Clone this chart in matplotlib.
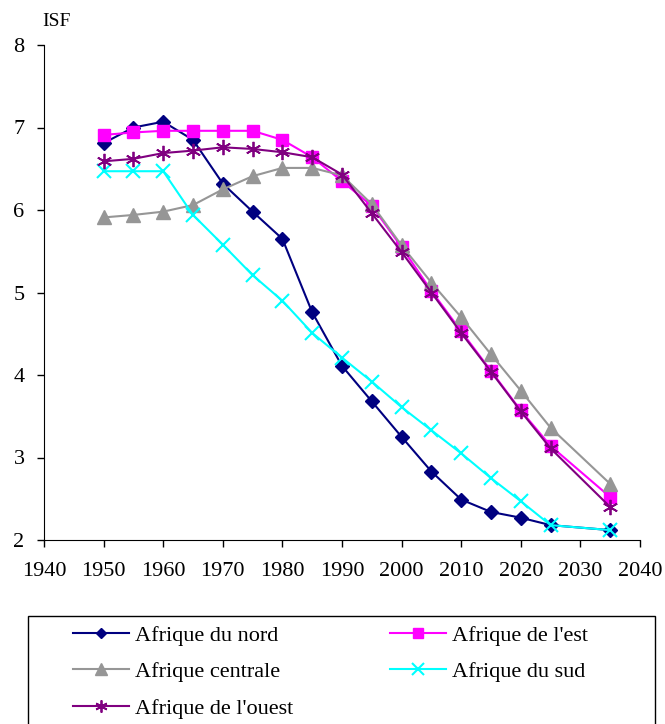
import matplotlib.pyplot as plt
from matplotlib.patches import Rectangle

plt.rcParams['font.family'] = ['Liberation Serif', 'DejaVu Serif']

# annees
years = [1950, 1955, 1960, 1965, 1970, 1975, 1980, 1985, 1990, 1995,
         2000, 2005, 2010, 2015, 2020, 2025, 2035]

# ISF par region
nord = [6.81, 7.00, 7.07, 6.85, 6.32, 5.98, 5.65, 4.76, 4.11, 3.68,
        3.25, 2.83, 2.49, 2.34, 2.27, 2.18, 2.12]
est = [6.91, 6.94, 6.96, 6.96, 6.96, 6.96, 6.85, 6.64, 6.35, 6.05,
       5.55, 5.02, 4.53, 4.05, 3.57, 3.14, 2.52]
centrale = [5.91, 5.94, 5.98, 6.06, 6.25, 6.41, 6.51, 6.51, 6.42, 6.07,
            5.57, 5.12, 4.70, 4.25, 3.81, 3.36, 2.68]
sud = [6.47, 6.47, 6.47, 5.94, 5.58, 5.21, 4.90, 4.51, 4.21, 3.92,
       3.61, 3.33, 3.05, 2.75, 2.47, 2.18, 2.12]
ouest = [6.59, 6.62, 6.69, 6.72, 6.76, 6.74, 6.70, 6.64, 6.43, 5.96,
         5.49, 5.00, 4.51, 4.04, 3.56, 3.11, 2.40]

W, H = 665, 724
fig = plt.figure(figsize=(W / 100, H / 100), dpi=100)
ax = fig.add_axes([44/W, 1 - 540/H, (640 - 44)/W, (540 - 45)/H])

l_nord, = ax.plot(years, nord, color='#000080', marker='D', markersize=7, lw=1.5, label='Afrique du nord')
l_est, = ax.plot(years, est, color='#FF00FF', marker='s', markersize=9, lw=1.5, label="Afrique de l'est")
l_cen, = ax.plot(years, centrale, color='#969696', marker='^', markersize=10, lw=1.5, label='Afrique centrale')
l_sud, = ax.plot(years, sud, color='#00FFFF', marker='x', markersize=10, mew=1.5, lw=1.5, label='Afrique du sud')
l_oue, = ax.plot(years, ouest, color='#800080', marker=(6, 2, 0), markersize=11, mew=1.3, lw=1.5, label="Afrique de l'ouest")

ax.set_xlim(1940, 2040)
ax.set_ylim(2, 8)
ax.set_xticks(range(1940, 2041, 10))
ax.set_yticks(range(2, 9))
ax.tick_params(labelsize=16, direction='out', length=5, width=1, colors='black')
ax.tick_params(axis='x', pad=11)
ax.tick_params(axis='y', pad=9)
ax.spines['top'].set_visible(False)
ax.spines['right'].set_visible(False)

fig.text(42/W, 1 - 22/H, 'ISF', fontsize=14, va='center', ha='left')

# cadre de la legende (coupe en bas)
fig.patches.append(Rectangle((28/W, -0.02), (655 - 28)/W, 0.02 + 1 - 616/H,
                             transform=fig.transFigure, fill=False,
                             edgecolor='black', lw=1))

leg_kw = dict(loc='upper left', fontsize=16, frameon=False, handlelength=2.5,
              handletextpad=0.3, labelspacing=0.72, borderpad=0, borderaxespad=0,
              markerscale=0.8)
leg1 = fig.legend([l_nord, l_cen, l_oue], [h.get_label() for h in [l_nord, l_cen, l_oue]],
                  bbox_to_anchor=(73/W, 1 - 625/H), **leg_kw)
leg2 = fig.legend([l_est, l_sud], [h.get_label() for h in [l_est, l_sud]],
                  bbox_to_anchor=(390/W, 1 - 625/H), **leg_kw)

fig.savefig('out.png', dpi=100)
